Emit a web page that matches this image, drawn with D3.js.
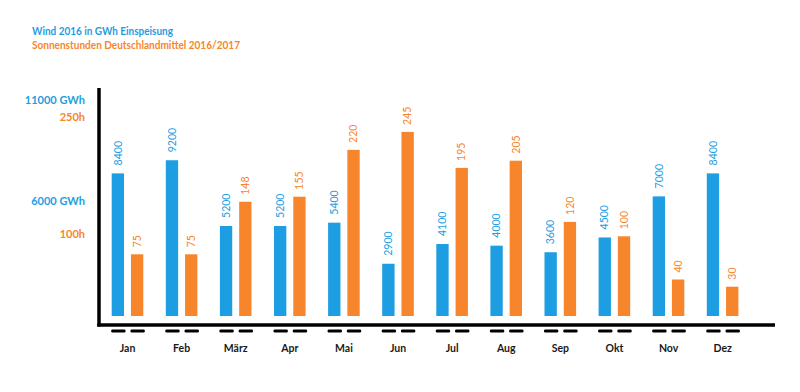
<!DOCTYPE html>
<html>
<head>
<meta charset="utf-8">
<script src="https://cdn.jsdelivr.net/npm/d3@7"></script>
<style>
  html, body { margin: 0; padding: 0; background: #fff; }
  svg { display: block; font-family: Lato, "Open Sans", sans-serif; }
</style>
</head>
<body>
<svg id="chart" width="800" height="392"></svg>
<script>
// ---- data ----
const months = ["Jan", "Feb", "März", "Apr", "Mai", "Jun", "Jul", "Aug", "Sep", "Okt", "Nov", "Dez"];
const windGWh = [8400, 9200, 5200, 5200, 5400, 2900, 4100, 4000, 3600, 4500, 7000, 8400];
const sunHours = [75, 75, 148, 155, 220, 245, 195, 205, 120, 100, 40, 30];
const windTicks = [11000, 6000];
const sunTicks = [250, 100];
const windTickLabels = ["11000 GWh", "6000 GWh"];
const sunTickLabels = ["250h", "100h"];
const legendTexts = ["Wind 2016 in GWh Einspeisung", "Sonnenstunden Deutschlandmittel 2016/2017"];

const BLUE = "#1d9de2";
const ORANGE = "#f7852c";

const svg = d3.select("#chart");

// ---- scales ----
const x = d3.scaleBand().domain(months).range([100.5, 749.7]).paddingInner(0).paddingOuter(0);
const xs = d3.scaleBand().domain(["wind", "sun"]).range([11.2, 42.8]).paddingInner(0.36).paddingOuter(0);
const base = 316;
const yWind = d3.scaleLinear().domain([-280, 11000]).range([base, base - 0.01643 * 11280]);
const ySun = d3.scaleLinear().domain([-10.7, 250]).range([base, base - 0.72 * 260.7]);
// tick label placement scales (labels as placed on the original chart)
const yWindAxis = d3.scaleLinear().domain([6000, 11000]).range([201, 100]);
const ySunAxis = d3.scaleLinear().domain([100, 250]).range([234, 116.7]);

// ---- legend ----
svg.append("text").attr("x", 32).attr("y", 35)
  .attr("fill", BLUE).attr("font-weight", "bold").attr("font-size", 11)
  .attr("textLength", 141).attr("lengthAdjust", "spacingAndGlyphs")
  .text(legendTexts[0]);
svg.append("text").attr("x", 32).attr("y", 49)
  .attr("fill", ORANGE).attr("font-weight", "bold").attr("font-size", 11)
  .attr("textLength", 208).attr("lengthAdjust", "spacingAndGlyphs")
  .text(legendTexts[1]);

// ---- y tick labels ----
svg.selectAll(".wtick").data(windTicks).join("text")
  .attr("class", "wtick")
  .attr("x", 85).attr("y", d => yWindAxis(d)).attr("dy", "0.35em")
  .attr("text-anchor", "end").attr("fill", BLUE)
  .attr("font-weight", "bold").attr("font-size", 11)
  .text((d, i) => windTickLabels[i]);
svg.selectAll(".stick").data(sunTicks).join("text")
  .attr("class", "stick")
  .attr("x", 85).attr("y", d => ySunAxis(d)).attr("dy", "0.35em")
  .attr("text-anchor", "end").attr("fill", ORANGE)
  .attr("font-weight", "bold").attr("font-size", 11)
  .text((d, i) => sunTickLabels[i]);

// ---- bars ----
const g = svg.append("g");
const groups = g.selectAll(".month").data(months).join("g")
  .attr("class", "month")
  .attr("transform", d => `translate(${x(d)},0)`);

groups.append("rect")
  .attr("x", xs("wind")).attr("width", xs.bandwidth())
  .attr("y", (d, i) => yWind(windGWh[i]))
  .attr("height", (d, i) => base - yWind(windGWh[i]))
  .attr("fill", BLUE);
groups.append("rect")
  .attr("x", xs("sun")).attr("width", xs.bandwidth())
  .attr("y", (d, i) => ySun(sunHours[i]))
  .attr("height", (d, i) => base - ySun(sunHours[i]))
  .attr("fill", ORANGE);

// value labels (rotated)
groups.append("text")
  .attr("transform", (d, i) => `translate(${xs("wind") + xs.bandwidth() / 2},${yWind(windGWh[i]) - 8}) rotate(-90)`)
  .attr("dy", "0.35em").attr("text-anchor", "start")
  .attr("fill", BLUE).attr("font-size", 10.5)
  .text((d, i) => windGWh[i]);
groups.append("text")
  .attr("transform", (d, i) => `translate(${xs("sun") + xs.bandwidth() / 2},${ySun(sunHours[i]) - 7}) rotate(-90)`)
  .attr("dy", "0.35em").attr("text-anchor", "start")
  .attr("fill", ORANGE).attr("font-size", 10.5)
  .text((d, i) => sunHours[i]);

// dashes under bars
["wind", "sun"].forEach(k => {
  groups.append("rect")
    .attr("x", xs(k) - 0.5).attr("width", xs.bandwidth() + 2)
    .attr("y", 329.5).attr("height", 3).attr("rx", 1.2)
    .attr("fill", "#000");
});

// month labels
groups.append("text")
  .attr("x", x.bandwidth() / 2).attr("y", 348).attr("dy", "0.35em")
  .attr("text-anchor", "middle").attr("font-weight", "bold")
  .attr("font-size", 10.5).attr("fill", "#1a1a1a")
  .text(d => d);

// ---- axes lines ----
svg.append("line").attr("x1", 99).attr("x2", 99).attr("y1", 88).attr("y2", 326.5)
  .attr("stroke", "#000").attr("stroke-width", 3.5);
svg.append("line").attr("x1", 97.3).attr("x2", 775).attr("y1", 325).attr("y2", 325)
  .attr("stroke", "#000").attr("stroke-width", 3.5);
</script>
</body>
</html>
